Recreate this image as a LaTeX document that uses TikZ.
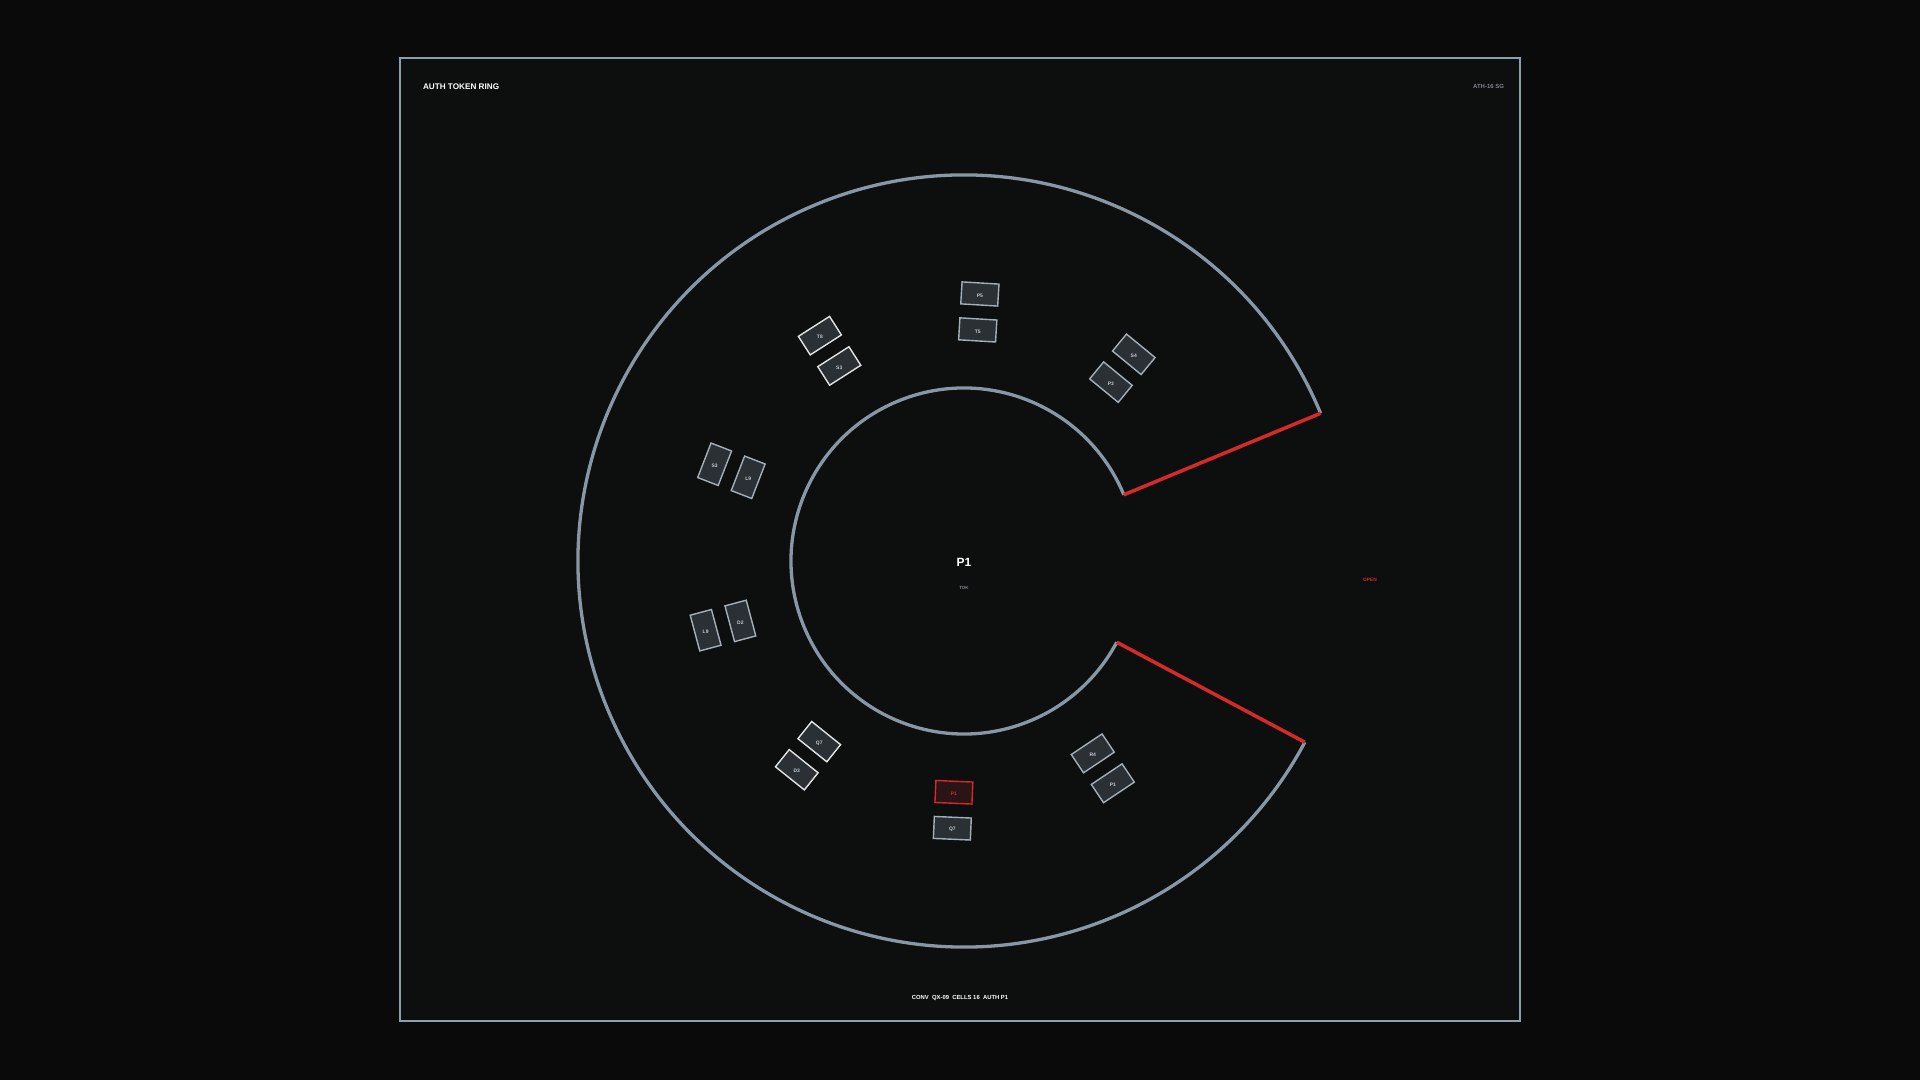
\documentclass[tikz,border=0pt]{standalone}
\usepackage{fontspec}
\setmainfont{Liberation Sans}
\definecolor{outbg}{HTML}{0A0A0A}
\definecolor{inbg}{HTML}{0D0E0E}
\definecolor{framegrey}{HTML}{8D9EAE}
\definecolor{ringgrey}{HTML}{8797A5}
\definecolor{cellfill}{HTML}{2B3034}
\definecolor{cellgrey}{HTML}{A3B0BA}
\definecolor{cellwhite}{HTML}{E2E4E4}
\definecolor{celltext}{HTML}{C4CCD2}
\definecolor{ringred}{HTML}{D42A2A}
\definecolor{redfill}{HTML}{2A1416}
\definecolor{dimtext}{HTML}{7D8790}
\begin{document}
\begin{tikzpicture}[x=1bp,y=1bp,
  ring/.style={draw=ringgrey,line width=3.3bp},
  gap/.style={draw=ringred,line width=3.5bp},
  cell/.style={draw=cellgrey,fill=cellfill,line width=1.4bp,minimum width=37bp,
    minimum height=22bp,inner sep=0pt},
  cell hi/.style={cell,draw=cellwhite},
  cell red/.style={cell,draw=ringred,fill=redfill},
  tag/.style={inner sep=0pt,yshift=-1.5bp,text=celltext,font=\fontsize{5}{5}\selectfont\bfseries}]

  \useasboundingbox (0,0) rectangle (1920,1080);
  \fill[outbg] (0,0) rectangle (1920,1080);
  \draw[draw=framegrey,fill=inbg,line width=2.5bp] (400,59) rectangle (1520,1022);

  \node[anchor=west,text=white,font=\fontsize{8.2}{9}\selectfont\bfseries] (title) at (419.5,993) {AUTH TOKEN RING};
  \node[anchor=east,text=dimtext,font=\fontsize{6}{7}\selectfont\bfseries] (id) at (1507.5,994) {ATH-16 SG};
  \node[text=white,font=\fontsize{5.9}{7}\selectfont\bfseries] (foot) at (960,82) {CONV\ \ QX-09\ \ CELLS 16\ \ AUTH P1};
  \node[text=white,font=\fontsize{12}{13}\selectfont\bfseries] (hub) at (964,517.5) {P1};
  \node[text=dimtext,font=\fontsize{4.5}{5}\selectfont\bfseries] (tok) at (964,492) {TOK};
  \node[text=ringred,font=\fontsize{4.8}{5}\selectfont\bfseries] (open) at (1370,500) {OPEN};

  \begin{scope}[shift={(964,519)}]
  \coordinate (gi1) at (22.5:173);
  \coordinate (go1) at (22.5:386);
  \coordinate (gi2) at (-28:173);
  \coordinate (go2) at (-28:386);

  \draw[ring] (go1) arc[start angle=22.5,end angle=332,radius=386];
  \draw[ring] (gi1) arc[start angle=22.5,end angle=332,radius=173];
  \draw[gap] (gi1) -- (go1);
  \draw[gap] (gi2) -- (go2);

  \node[cell,rotate=-39.4] (s4) at (50.6:267.5) {};
  \node[cell,rotate=-39.4] (p3) at (50.6:231.5) {};
  \node[cell,rotate=-3.4] (p5) at (86.6:267.5) {};
  \node[cell,rotate=-3.4] (t5) at (86.6:231.5) {};
  \node[cell hi,rotate=32.6] (t8) at (122.6:267.5) {};
  \node[cell hi,rotate=32.6] (s3) at (122.6:231.5) {};
  \node[cell,rotate=68.8] (s5) at (158.8:267.5) {};
  \node[cell,rotate=68.8] (l9) at (158.8:231.5) {};
  \node[cell,rotate=105] (l8) at (195:267.5) {};
  \node[cell,rotate=105] (d2) at (195:231.5) {};
  \node[cell hi,rotate=141.3] (d3) at (231.3:267.5) {};
  \node[cell hi,rotate=141.3] (q7) at (231.3:231.5) {};
  \node[cell,rotate=177.5] (q8) at (267.5:267.5) {};
  \node[cell red,rotate=177.5] (p1) at (267.5:231.5) {};
  \node[cell,rotate=213.8] (p2) at (303.8:267.5) {};
  \node[cell,rotate=213.8] (r4) at (303.8:231.5) {};
  \end{scope}

  % cell tags stay upright
  \node[tag] at (s4) {S4};
  \node[tag] at (p3) {P3};
  \node[tag] at (p5) {P5};
  \node[tag] at (t5) {T5};
  \node[tag] at (t8) {T8};
  \node[tag] at (s3) {S3};
  \node[tag] at (s5) {S3};
  \node[tag] at (l9) {L9};
  \node[tag] at (l8) {L9};
  \node[tag] at (d2) {D2};
  \node[tag] at (d3) {D3};
  \node[tag] at (q7) {Q7};
  \node[tag] at (q8) {Q7};
  \node[tag,text=ringred] at (p1) {P1};
  \node[tag] at (p2) {P1};
  \node[tag] at (r4) {R4};
\end{tikzpicture}
\end{document}
